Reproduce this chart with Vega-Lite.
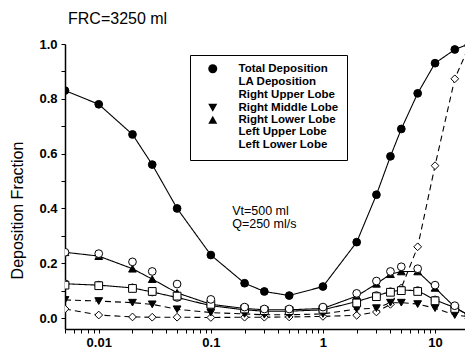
{
  "$schema": "https://vega.github.io/schema/vega-lite/v6.json",
  "autosize": "none",
  "width": 400,
  "height": 285,
  "padding": {"left": 65, "top": 44, "right": 0, "bottom": 25},
  "background": "white",
  "config": {
    "view": {"stroke": null},
    "font": "Liberation Sans",
    "axis": {"grid": false, "domainColor": "black", "tickColor": "black", "labelColor": "black", "titleColor": "black", "domainWidth": 1.5, "tickWidth": 1, "tickSize": 4, "labelFont": "Liberation Sans", "labelFontSize": 13, "labelFontWeight": "bold", "titleFont": "Liberation Sans", "titleFontSize": 16, "titleFontWeight": "normal"},
    "legend": {"title": null, "orient": "none", "legendX": 125, "legendY": 11, "strokeColor": "black", "fillColor": "white", "padding": 8, "rowPadding": -1, "symbolSize": 81, "symbolOffset": 9, "labelOffset": 20, "labelFont": "Liberation Sans", "labelFontSize": 11.5, "labelFontWeight": "bold", "labelColor": "black", "symbolStrokeColor": "black", "symbolStrokeWidth": 1}
  },
  "title": {"text": "FRC=3250 ml", "anchor": "start", "frame": "group", "fontSize": 16, "fontWeight": "normal", "font": "Liberation Sans", "color": "black", "offset": -2, "dx": 3, "baseline": "alphabetic"},
  "data": {"values": [
    {"x": 0.005, "v": 0.83, "series": "Total Deposition"},
    {"x": 0.01, "v": 0.78, "series": "Total Deposition"},
    {"x": 0.02, "v": 0.67, "series": "Total Deposition"},
    {"x": 0.03, "v": 0.56, "series": "Total Deposition"},
    {"x": 0.05, "v": 0.40, "series": "Total Deposition"},
    {"x": 0.1, "v": 0.23, "series": "Total Deposition"},
    {"x": 0.2, "v": 0.127, "series": "Total Deposition"},
    {"x": 0.3, "v": 0.097, "series": "Total Deposition"},
    {"x": 0.5, "v": 0.082, "series": "Total Deposition"},
    {"x": 1, "v": 0.115, "series": "Total Deposition"},
    {"x": 2, "v": 0.277, "series": "Total Deposition"},
    {"x": 3, "v": 0.45, "series": "Total Deposition"},
    {"x": 4, "v": 0.59, "series": "Total Deposition"},
    {"x": 5, "v": 0.69, "series": "Total Deposition"},
    {"x": 7, "v": 0.82, "series": "Total Deposition"},
    {"x": 10, "v": 0.93, "series": "Total Deposition"},
    {"x": 15, "v": 0.98, "series": "Total Deposition"},
    {"x": 20, "v": 1.0, "series": "Total Deposition"},

    {"x": 0.005, "v": 0.033, "series": "LA Deposition"},
    {"x": 0.01, "v": 0.011, "series": "LA Deposition"},
    {"x": 0.02, "v": 0.004, "series": "LA Deposition"},
    {"x": 0.03, "v": 0.003, "series": "LA Deposition"},
    {"x": 0.05, "v": 0.003, "series": "LA Deposition"},
    {"x": 0.1, "v": 0.002, "series": "LA Deposition"},
    {"x": 0.2, "v": 0.003, "series": "LA Deposition"},
    {"x": 0.3, "v": 0.003, "series": "LA Deposition"},
    {"x": 0.5, "v": 0.004, "series": "LA Deposition"},
    {"x": 1, "v": 0.006, "series": "LA Deposition"},
    {"x": 2, "v": 0.01, "series": "LA Deposition"},
    {"x": 3, "v": 0.022, "series": "LA Deposition"},
    {"x": 4, "v": 0.05, "series": "LA Deposition"},
    {"x": 5, "v": 0.11, "series": "LA Deposition"},
    {"x": 7, "v": 0.26, "series": "LA Deposition"},
    {"x": 10, "v": 0.556, "series": "LA Deposition"},
    {"x": 15, "v": 0.873, "series": "LA Deposition"},
    {"x": 20, "v": 0.99, "series": "LA Deposition"},

    {"x": 0.005, "v": 0.125, "series": "Right Upper Lobe"},
    {"x": 0.01, "v": 0.12, "series": "Right Upper Lobe"},
    {"x": 0.02, "v": 0.11, "series": "Right Upper Lobe"},
    {"x": 0.03, "v": 0.095, "series": "Right Upper Lobe"},
    {"x": 0.05, "v": 0.075, "series": "Right Upper Lobe"},
    {"x": 0.1, "v": 0.045, "series": "Right Upper Lobe"},
    {"x": 0.2, "v": 0.03, "series": "Right Upper Lobe"},
    {"x": 0.3, "v": 0.025, "series": "Right Upper Lobe"},
    {"x": 0.5, "v": 0.025, "series": "Right Upper Lobe"},
    {"x": 1, "v": 0.03, "series": "Right Upper Lobe"},
    {"x": 2, "v": 0.06, "series": "Right Upper Lobe"},
    {"x": 3, "v": 0.082, "series": "Right Upper Lobe"},
    {"x": 4, "v": 0.096, "series": "Right Upper Lobe"},
    {"x": 5, "v": 0.102, "series": "Right Upper Lobe"},
    {"x": 7, "v": 0.1, "series": "Right Upper Lobe"},
    {"x": 10, "v": 0.066, "series": "Right Upper Lobe"},
    {"x": 15, "v": 0.038, "series": "Right Upper Lobe"},
    {"x": 20, "v": 0.01, "series": "Right Upper Lobe"},

    {"x": 0.005, "v": 0.066, "series": "Right Middle Lobe"},
    {"x": 0.01, "v": 0.062, "series": "Right Middle Lobe"},
    {"x": 0.02, "v": 0.056, "series": "Right Middle Lobe"},
    {"x": 0.03, "v": 0.05, "series": "Right Middle Lobe"},
    {"x": 0.05, "v": 0.032, "series": "Right Middle Lobe"},
    {"x": 0.1, "v": 0.02, "series": "Right Middle Lobe"},
    {"x": 0.2, "v": 0.015, "series": "Right Middle Lobe"},
    {"x": 0.3, "v": 0.012, "series": "Right Middle Lobe"},
    {"x": 0.5, "v": 0.012, "series": "Right Middle Lobe"},
    {"x": 1, "v": 0.015, "series": "Right Middle Lobe"},
    {"x": 2, "v": 0.033, "series": "Right Middle Lobe"},
    {"x": 3, "v": 0.036, "series": "Right Middle Lobe"},
    {"x": 4, "v": 0.056, "series": "Right Middle Lobe"},
    {"x": 5, "v": 0.056, "series": "Right Middle Lobe"},
    {"x": 7, "v": 0.051, "series": "Right Middle Lobe"},
    {"x": 10, "v": 0.036, "series": "Right Middle Lobe"},
    {"x": 15, "v": 0.011, "series": "Right Middle Lobe"},
    {"x": 20, "v": 0.005, "series": "Right Middle Lobe"},

    {"x": 0.005, "v": 0.24, "series": "Right Lower Lobe"},
    {"x": 0.01, "v": 0.226, "series": "Right Lower Lobe"},
    {"x": 0.02, "v": 0.18, "series": "Right Lower Lobe"},
    {"x": 0.03, "v": 0.142, "series": "Right Lower Lobe"},
    {"x": 0.05, "v": 0.092, "series": "Right Lower Lobe"},
    {"x": 0.1, "v": 0.05, "series": "Right Lower Lobe"},
    {"x": 0.2, "v": 0.035, "series": "Right Lower Lobe"},
    {"x": 0.3, "v": 0.03, "series": "Right Lower Lobe"},
    {"x": 0.5, "v": 0.03, "series": "Right Lower Lobe"},
    {"x": 1, "v": 0.035, "series": "Right Lower Lobe"},
    {"x": 2, "v": 0.08, "series": "Right Lower Lobe"},
    {"x": 3, "v": 0.125, "series": "Right Lower Lobe"},
    {"x": 4, "v": 0.16, "series": "Right Lower Lobe"},
    {"x": 5, "v": 0.17, "series": "Right Lower Lobe"},
    {"x": 7, "v": 0.17, "series": "Right Lower Lobe"},
    {"x": 10, "v": 0.11, "series": "Right Lower Lobe"},
    {"x": 15, "v": 0.04, "series": "Right Lower Lobe"},
    {"x": 20, "v": 0.01, "series": "Right Lower Lobe"},

    {"x": 0.005, "v": 0.12, "series": "Left Upper Lobe"},
    {"x": 0.01, "v": 0.118, "series": "Left Upper Lobe"},
    {"x": 0.02, "v": 0.108, "series": "Left Upper Lobe"},
    {"x": 0.03, "v": 0.097, "series": "Left Upper Lobe"},
    {"x": 0.05, "v": 0.08, "series": "Left Upper Lobe"},
    {"x": 0.1, "v": 0.05, "series": "Left Upper Lobe"},
    {"x": 0.2, "v": 0.033, "series": "Left Upper Lobe"},
    {"x": 0.3, "v": 0.027, "series": "Left Upper Lobe"},
    {"x": 0.5, "v": 0.027, "series": "Left Upper Lobe"},
    {"x": 1, "v": 0.032, "series": "Left Upper Lobe"},
    {"x": 2, "v": 0.055, "series": "Left Upper Lobe"},
    {"x": 3, "v": 0.078, "series": "Left Upper Lobe"},
    {"x": 4, "v": 0.094, "series": "Left Upper Lobe"},
    {"x": 5, "v": 0.1, "series": "Left Upper Lobe"},
    {"x": 7, "v": 0.097, "series": "Left Upper Lobe"},
    {"x": 10, "v": 0.063, "series": "Left Upper Lobe"},
    {"x": 15, "v": 0.035, "series": "Left Upper Lobe"},

    {"x": 0.005, "v": 0.24, "series": "Left Lower Lobe"},
    {"x": 0.01, "v": 0.235, "series": "Left Lower Lobe"},
    {"x": 0.02, "v": 0.205, "series": "Left Lower Lobe"},
    {"x": 0.03, "v": 0.17, "series": "Left Lower Lobe"},
    {"x": 0.05, "v": 0.124, "series": "Left Lower Lobe"},
    {"x": 0.1, "v": 0.068, "series": "Left Lower Lobe"},
    {"x": 0.2, "v": 0.04, "series": "Left Lower Lobe"},
    {"x": 0.3, "v": 0.033, "series": "Left Lower Lobe"},
    {"x": 0.5, "v": 0.033, "series": "Left Lower Lobe"},
    {"x": 1, "v": 0.04, "series": "Left Lower Lobe"},
    {"x": 2, "v": 0.09, "series": "Left Lower Lobe"},
    {"x": 3, "v": 0.135, "series": "Left Lower Lobe"},
    {"x": 4, "v": 0.17, "series": "Left Lower Lobe"},
    {"x": 5, "v": 0.187, "series": "Left Lower Lobe"},
    {"x": 7, "v": 0.18, "series": "Left Lower Lobe"},
    {"x": 10, "v": 0.12, "series": "Left Lower Lobe"},
    {"x": 15, "v": 0.045, "series": "Left Lower Lobe"}
  ]},
  "encoding": {
    "x": {"field": "x", "type": "quantitative",
      "scale": {"type": "log", "domain": [0.005, 18.5], "nice": false},
      "axis": {"title": null, "values": [0.005,0.006,0.007,0.008,0.009,0.01,0.02,0.03,0.04,0.05,0.06,0.07,0.08,0.09,0.1,0.2,0.3,0.4,0.5,0.6,0.7,0.8,0.9,1,2,3,4,5,6,7,8,9,10], "labelExpr": "datum.value == 0.01 ? '0.01' : datum.value == 0.1 ? '0.1' : datum.value == 1 ? '1' : datum.value == 10 ? '10' : ''", "labelPadding": 3, "labelFlush": false, "labelOverlap": false}},
    "y": {"field": "v", "type": "quantitative",
      "scale": {"domain": [-0.04, 1.0], "nice": false, "zero": false},
      "axis": {"title": "Deposition Fraction", "values": [0,0.1,0.2,0.3,0.4,0.5,0.6,0.7,0.8,0.9,1.0], "labelExpr": "round(datum.value*10) % 2 == 0 ? format(datum.value, '.1f') : ''", "labelPadding": 4, "labelOverlap": false, "titleX": -43, "titleY": 166, "titleAngle": -90, "titleAlign": "center", "titleBaseline": "alphabetic"}}
  },
  "layer": [
    {
      "data": {"values": [{}]},
      "mark": {"type": "rule", "color": "black", "strokeWidth": 1.5},
      "encoding": {"x": null, "y": {"datum": 1}}
    },
    {
      "transform": [{"filter": "datum.series != 'Left Upper Lobe' && datum.series != 'Left Lower Lobe'"}],
      "mark": {"type": "line", "color": "black", "strokeWidth": 1.1, "clip": true},
      "encoding": {
        "detail": {"field": "series"},
        "strokeDash": {"field": "series", "type": "nominal", "legend": null,
          "scale": {"domain": ["Total Deposition", "LA Deposition", "Right Upper Lobe", "Right Middle Lobe", "Right Lower Lobe"],
                    "range": [[1,0], [6,4], [1,0], [6,4], [1,0]]}}
      }
    },
    {
      "mark": {"type": "point", "filled": true, "stroke": "black", "strokeWidth": 1, "opacity": 1, "size": 60, "clip": true},
      "encoding": {
        "shape": {"field": "series", "type": "nominal",
          "scale": {"domain": ["Total Deposition", "LA Deposition", "Right Upper Lobe", "Right Middle Lobe", "Right Lower Lobe", "Left Upper Lobe", "Left Lower Lobe"],
                    "range": ["circle", "diamond", "circle", "triangle-down", "triangle-up", "square", "circle"]},
          "legend": {"encode": {"symbols": {"stroke": {"value": "black"}, "strokeWidth": {"value": 1}, "opacity": {"value": 1}}}}},
        "fill": {"field": "series", "type": "nominal",
          "scale": {"domain": ["Total Deposition", "LA Deposition", "Right Upper Lobe", "Right Middle Lobe", "Right Lower Lobe", "Left Upper Lobe", "Left Lower Lobe"],
                    "range": ["black", "white", "white", "black", "black", "white", "white"]},
          "legend": {"encode": {"symbols": {"stroke": {"value": "black"}, "strokeWidth": {"value": 1}, "opacity": {"value": 1}}}}}
      }
    },
    {
      "transform": [{"filter": "datum.series == 'Total Deposition' && datum.x == 1"}],
      "mark": {"type": "text", "text": ["Vt=500 ml", "Q=250 ml/s"], "align": "left", "baseline": "middle", "fontSize": 12.5, "lineHeight": 13, "font": "Liberation Sans", "color": "black"},
      "encoding": {"x": {"datum": 0.155}, "y": {"datum": 0.39}}
    }
  ]
}
